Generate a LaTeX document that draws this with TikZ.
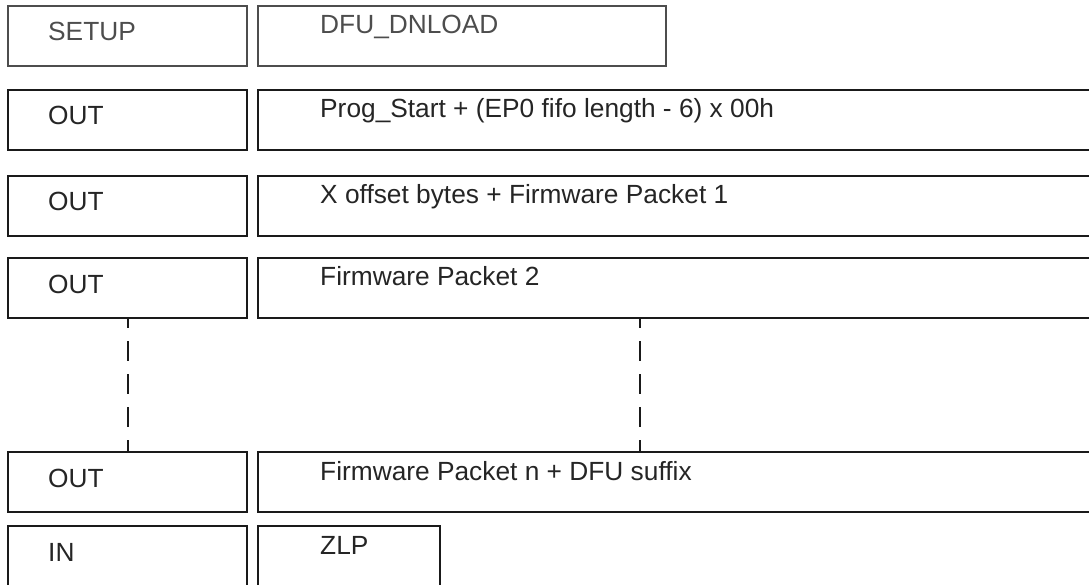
\documentclass[tikz,border=0pt]{standalone}
\usepackage{fontspec}
\setmainfont{Liberation Sans}
\usetikzlibrary{calc}

\definecolor{setupgray}{HTML}{4D4D4D}
\definecolor{pktblack}{HTML}{1A1A1A}

\tikzset{
    pkt/.style={draw=pktblack, line width=2pt, minimum height=60pt, inner sep=0pt, outer sep=0pt, anchor=north west},
    tokbox/.style={pkt, minimum width=239pt},
    databox/.style={pkt, minimum width=900pt},
    setupbox/.style={draw=setupgray, line width=1.5pt},
    pktlabel/.style={font=\fontsize{26.3}{30}\selectfont, text=pktblack!95, inner sep=0pt, anchor=base west},
    gapline/.style={draw=pktblack, line width=2pt, dash pattern=on 20pt off 13pt, dash phase=10pt},
}

\begin{document}
\begin{tikzpicture}[x=1pt,y=-1pt]
    \useasboundingbox (0,0) rectangle (1089,585);
    \clip (0,0) rectangle (1089,585);

    % setup stage
    \node[tokbox, setupbox] (setup) at (8,6) {};
    \node[pkt, setupbox, minimum width=408pt] (dnload) at (258,6) {};
    \node[pktlabel, text=setupgray] (setupT) at ($(setup.north west)+(40,35)$) {SETUP};
    \node[pktlabel, text=setupgray] (dnloadT) at ($(dnload.north west)+(62,28)$) {DFU\_DNLOAD};

    % data stage
    \node[tokbox] (o2) at (8,90) {};
    \node[databox] (d2) at (258,90) {};
    \node[pktlabel] (o2T) at ($(o2.north west)+(40,35)$) {OUT};
    \node[pktlabel] (d2T) at ($(d2.north west)+(62,28)$) {Prog\_Start + (EP0 fifo length - 6) x 00h};

    \node[tokbox] (o3) at (8,176) {};
    \node[databox] (d3) at (258,176) {};
    \node[pktlabel] (o3T) at ($(o3.north west)+(40,35)$) {OUT};
    \node[pktlabel] (d3T) at ($(d3.north west)+(62,28)$) {X offset bytes + Firmware Packet 1};

    \node[tokbox] (o4) at (8,258) {};
    \node[databox] (d4) at (258,258) {};
    \node[pktlabel] (o4T) at ($(o4.north west)+(40,35)$) {OUT};
    \node[pktlabel] (d4T) at ($(d4.north west)+(62,28)$) {Firmware Packet 2};

    \node[tokbox] (o5) at (8,452) {};
    \node[databox] (d5) at (258,452) {};
    \node[pktlabel] (o5T) at ($(o5.north west)+(40,35)$) {OUT};
    \node[pktlabel] (d5T) at ($(d5.north west)+(62,28)$) {Firmware Packet n + DFU suffix};

    \draw[gapline] (o4.south) -- (o5.north);
    \draw[gapline] ($(d4.south west)+(382,0)$) -- ($(d5.north west)+(382,0)$);

    % status stage
    \node[tokbox, minimum height=70pt] (in) at (8,526) {};
    \node[pkt, minimum width=182pt, minimum height=70pt] (zlp) at (258,526) {};
    \node[pktlabel] (inT) at ($(in.north west)+(40,35)$) {IN};
    \node[pktlabel] (zlpT) at ($(zlp.north west)+(62,28)$) {ZLP};
\end{tikzpicture}
\end{document}
